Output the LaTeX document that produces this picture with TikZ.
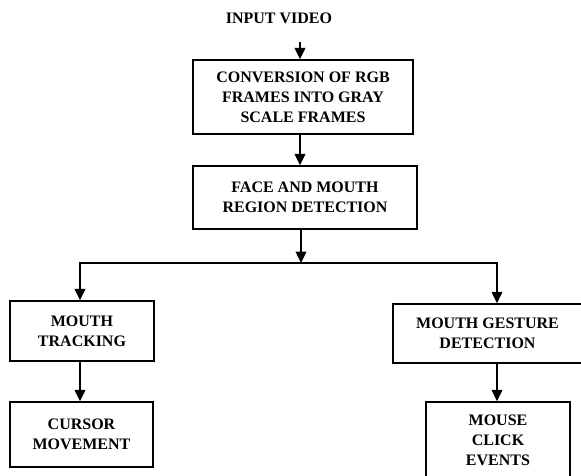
\documentclass[tikz,border=0pt]{standalone}
\usepackage{fontspec}
\setmainfont{Liberation Serif}
\usetikzlibrary{arrows.meta, positioning}

\begin{document}
\begin{tikzpicture}[x=0.75pt, y=-0.75pt,
        box/.style={rectangle, draw=black, line width=1.1pt, align=center, inner sep=0pt, font=\bfseries\fontsize{12}{15}\selectfont},
        lbl/.style={font=\bfseries\fontsize{12}{15}\selectfont},
        arrow/.style={-{Triangle[width=8pt, length=8.5pt]}, line width=1pt}
      ]
\useasboundingbox (0,0) rectangle (581,475);

\node[lbl] (input) at (279,18) {INPUT VIDEO};
      \node[box, minimum width=165pt, minimum height=55.5pt] (convert) at (303,97) {CONVERSION OF RGB \\ FRAMES INTO GRAY \\ SCALE FRAMES};
      \node[box, minimum width=168pt, minimum height=47.25pt] (face) at (305,197.5) {FACE AND MOUTH \\ REGION DETECTION};
      \node[box, minimum width=108pt, minimum height=45pt] (track) at (82,331) {MOUTH \\ TRACKING};
      \node[box, minimum width=107.25pt, minimum height=48.75pt] (cursor) at (81.5,434.5) {CURSOR \\ MOVEMENT};
      \node[box, minimum width=141.75pt, minimum height=44.25pt] (gesture) at (487.5,333.5) {MOUTH GESTURE \\ DETECTION};
      \node[box, minimum width=108pt, minimum height=57pt] (click) at (498,440) {MOUSE \\ CLICK \\ EVENTS};

\coordinate (start) at (300,42);
      \coordinate (split) at (301,263);
      \coordinate (splitL) at (80,263);
      \coordinate (splitR) at (497,263);

\draw[arrow] (start) -- (start |- convert.north);
      \draw[arrow] (convert.south -| start) -- (face.north -| start);
      \draw[arrow] (split |- face.south) -- (split);

\draw[arrow] (split) -| (splitL |- track.north);
      \draw[arrow] (split) -| (splitR |- gesture.north);

\draw[arrow] (track.south -| splitL) -- (cursor.north -| splitL);
      \draw[arrow] (gesture.south -| splitR) -- (click.north -| splitR);

      \end{tikzpicture}
\end{document}
